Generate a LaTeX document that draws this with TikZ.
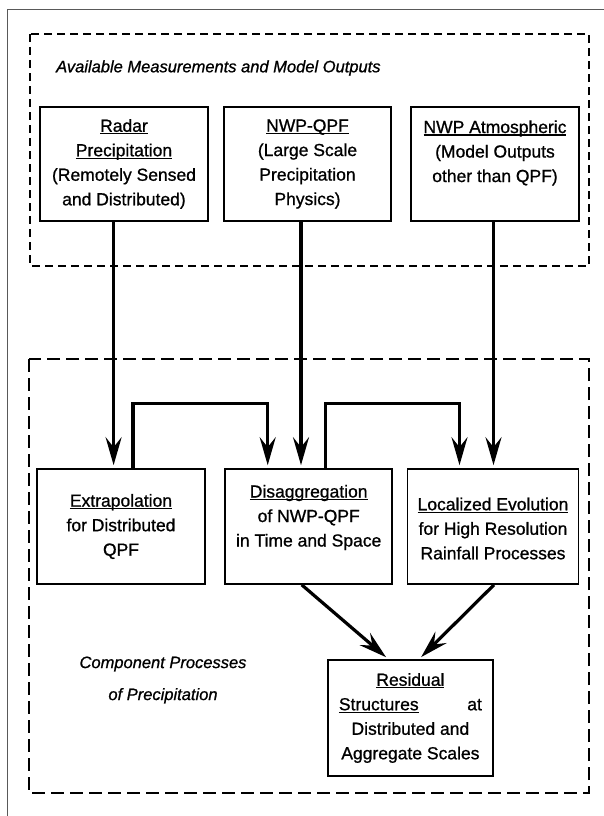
\documentclass[tikz,border=0pt]{standalone}
\usepackage{fontspec}
\setmainfont{Liberation Sans}[UprightFeatures={FakeBold=0.9}, ItalicFeatures={FakeBold=0.9}]
\usetikzlibrary{arrows.meta}
% underlined heading word, rule just under the baseline
\newcommand{\uword}[1]{\setbox0=\hbox{#1}\leavevmode\rlap{\rule[-2.6pt]{\wd0}{1.3pt}}\box0}
\begin{document}
\begin{tikzpicture}[x=1pt, y=-1pt, line join=miter,
    box/.style={draw, line width=1.6pt, minimum width=#1, minimum height=115pt, inner sep=0pt},
    txt/.style={align=center, inner sep=0pt, font=\fontsize{17.5}{24.5}\selectfont},
    note/.style={inner sep=0pt, font=\fontsize{16.5}{32}\selectfont\itshape},
    group/.style={line width=1.6pt, dash pattern=on 8pt off 5pt},
    flow/.style={line width=3.2pt, shorten >=3pt, -{Stealth[length=28pt, width=16pt, inset=10pt]}}]
    \useasboundingbox (0,0) rectangle (604,816);
    % khung ngoai
    \draw[gray!70!black, line width=0.8pt] (7,816) -- (7,9) -- (604,9);
    % hai vung net dut
    \draw[group] (30,34) rectangle (589,266);
    \draw[group, dash pattern=on 13pt off 6pt] (29,359) rectangle (589,793);
    \node[note, anchor=west] (avail) at (56,68) {Available Measurements and Model Outputs};
    \node[note, align=center] (comp) at (163,680) {Component Processes\\of Precipitation};
    
    % hang tren: du lieu
    \node[box=168pt, minimum height=114pt] (radar) at (124,164) {};
    \node[box=167pt, minimum height=114pt] (nwpqpf) at (307.5,164) {};
    \node[box=168pt, minimum height=114pt] (nwpatm) at (495,164) {};
    \node[txt] at (radar) {\uword{Radar}\\\uword{Precipitation}\\(Remotely Sensed\\and Distributed)};
    \node[txt] at (nwpqpf) {\uword{NWP-QPF}\\(Large Scale\\Precipitation\\Physics)};
    \node[txt] at ([yshift=11pt]nwpatm.center) {\uword{NWP Atmospheric}\\(Model Outputs\\other than QPF)};
    
    % hang giua: cac qua trinh
    \node[box=168pt] (extrap) at (121,526.5) {};
    \node[box=167pt] (disagg) at (308.7,526.5) {};
    \node[box=171pt] (local) at (493,526.5) {};
    \node[txt] at (extrap) {\uword{Extrapolation}\\for Distributed\\QPF};
    \node[txt] at ([yshift=9pt]disagg.center) {\uword{Disaggregation}\\of NWP-QPF\\in Time and Space};
    \node[txt] at ([yshift=-2pt]local.center) {\uword{Localized Evolution}\\for High Resolution\\Rainfall Processes};
    
    % hang duoi
    \node[box=165pt, minimum height=116pt] (resid) at (410.4,718) {};
    \node[txt] at (resid) {\uword{Residual}\\\hbox to 143pt{\uword{Structures}\hfill at}\\Distributed and\\Aggregate Scales};
    
    \draw[flow] ([xshift=-10.4pt]radar.south) -- ([xshift=-10.4pt]radar.south |- extrap.north);
    \draw[flow] ([xshift=-6.5pt]nwpqpf.south) -- ([xshift=-6.5pt]nwpqpf.south |- disagg.north);
    \draw[flow] ([xshift=-1.5pt]nwpatm.south) -- ([xshift=-1.5pt]nwpatm.south |- local.north);
    \draw[flow] ([xshift=12pt]extrap.north) -- ++(0,-65) -| ([xshift=-41pt]disagg.north);
    \draw[flow] ([xshift=16.8pt]disagg.north) -- ++(0,-65) -| ([xshift=-33.5pt]local.north);
    \draw[flow] ([xshift=-7pt]disagg.south) -- ([xshift=-22pt]resid.north);
    \draw[flow] ([xshift=1pt]local.south) -- ([xshift=8.6pt]resid.north);
\end{tikzpicture}
\end{document}
